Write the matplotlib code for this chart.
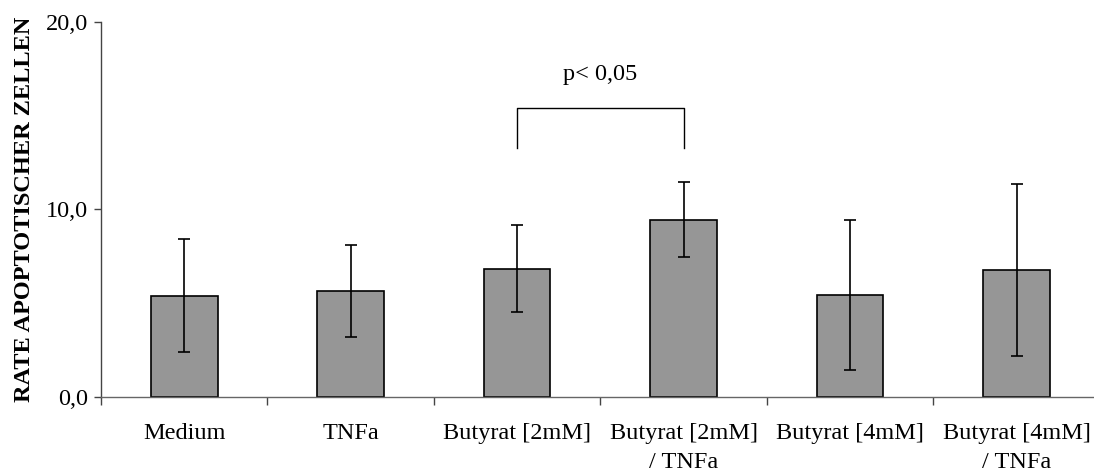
import numpy as np
import matplotlib
matplotlib.use('Agg')
import matplotlib.pyplot as plt

# Apoptoserate je Behandlung (Mittelwert und Standardabweichung)
categories = ['Medium', 'TNFa', 'Butyrat [2mM]', 'Butyrat [2mM]\n/ TNFa',
              'Butyrat [4mM]', 'Butyrat [4mM]\n/ TNFa']
means = [5.4, 5.65, 6.85, 9.45, 5.45, 6.77]
sds = [3.0, 2.45, 2.3, 2.0, 4.0, 4.58]
y_ticks = [0, 10, 20]

plt.rcParams['font.family'] = ['Liberation Serif', 'DejaVu Serif']
FS = 17.5

fig = plt.figure(figsize=(10.94, 4.75), dpi=100)
ax = fig.add_axes([0.0923, 0.164, 0.913, 0.79])

x = np.arange(len(categories))
ax.bar(x, means, width=0.4, color='#969696', edgecolor='black', linewidth=1.2, zorder=2)
ax.errorbar(x, means, yerr=sds, fmt='none', ecolor='black', elinewidth=1.2,
            capsize=4, capthick=1.2, zorder=3)

# Signifikanz-Klammer zwischen Butyrat [2mM] und Butyrat [2mM] / TNFa
ax.plot([2, 2, 3, 3], [13.3, 15.4, 15.4, 13.3], color='black', lw=1)
ax.text(2.5, 17.2, 'p< 0,05', ha='center', va='center', fontsize=FS)

ax.set_xlim(-0.5, 5.5)
ax.set_ylim(0, 20)
ax.set_yticks(y_ticks)
ax.set_yticklabels([f'{v:.1f}'.replace('.', ',') for v in y_ticks], fontsize=FS)
ax.set_xticks(x)
ax.set_xticklabels(categories, fontsize=FS, linespacing=1.45)
ax.set_xticks(np.arange(-0.5, 6, 1), minor=True)
ax.tick_params(axis='x', which='major', length=0, pad=19)
ax.tick_params(axis='x', which='minor', length=6, width=1, color='#444444')
ax.tick_params(axis='y', length=5, width=1, color='#444444', pad=4)

ax.set_ylabel('RATE APOPTOTISCHER ZELLEN', fontsize=FS, fontweight='bold', labelpad=8)

for side in ['top', 'right']:
    ax.spines[side].set_visible(False)
ax.spines['left'].set_color('#444444')
ax.spines['bottom'].set_color('#666666')
ax.spines['left'].set_linewidth(1)
ax.spines['bottom'].set_linewidth(1)

fig.savefig('out.png', dpi=100)
